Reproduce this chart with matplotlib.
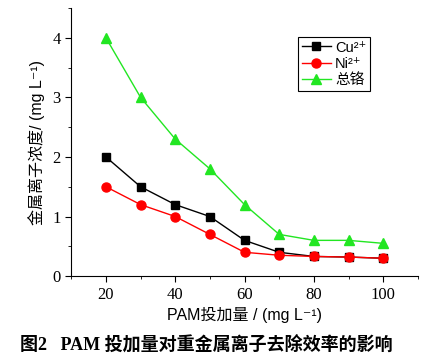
import matplotlib
matplotlib.use("Agg")
import matplotlib.pyplot as plt
from matplotlib.ticker import MultipleLocator

dose = [20, 30, 40, 50, 60, 70, 80, 90, 100]
cu = [2.0, 1.5, 1.2, 1.0, 0.6, 0.4, 0.33, 0.32, 0.3]
ni = [1.5, 1.2, 1.0, 0.7, 0.4, 0.35, 0.33, 0.32, 0.3]
cr = [4.0, 3.0, 2.3, 1.8, 1.2, 0.7, 0.6, 0.6, 0.55]
labels = ["Cu²⁺", "Ni²⁺", "总铬"]

fam = ["Liberation Sans", "Noto Sans CJK SC", "DejaVu Sans"]
plt.rcParams['font.family'] = fam

fig = plt.figure(figsize=(4.45, 3.6), dpi=100)
ax = fig.add_axes([0.16, 0.233, 0.779, 0.745])

ax.plot(dose, cu, color='black', marker='s', markersize=6, lw=1, label=labels[0])
ax.plot(dose, ni, color='red', marker='o', markersize=6.5, lw=1, label=labels[1])
ax.plot(dose, cr, color='#22e622', marker='^', markersize=7, lw=1, label=labels[2])

ax.set_xlim(10, 110)
ax.set_ylim(0, 4.5)
ax.xaxis.set_major_locator(MultipleLocator(20))
ax.xaxis.set_minor_locator(MultipleLocator(10))
ax.yaxis.set_major_locator(MultipleLocator(1))
ax.yaxis.set_minor_locator(MultipleLocator(0.5))
ax.spines['top'].set_visible(False)
ax.spines['right'].set_visible(False)
ax.tick_params(which='major', direction='out', length=4, labelsize=12)
ax.tick_params(which='minor', direction='out', length=2.5)
for t in ax.get_xticklabels() + ax.get_yticklabels():
    t.set_fontfamily('Liberation Serif')

ax.set_xlabel("PAM投加量 / (mg L⁻¹)", fontsize=11.5, labelpad=3)
ax.set_ylabel("金属离子浓度/ (mg L⁻¹)", fontsize=11.5, labelpad=5)

leg = ax.legend(loc='upper left', bbox_to_anchor=(0.654, 0.892), borderaxespad=0,
                fancybox=False, edgecolor='black', framealpha=1, fontsize=10.5,
                handlelength=2.0, handletextpad=0.3, borderpad=0.25, labelspacing=0.15)
leg.get_frame().set_linewidth(0.8)

fig.text(0.045, 0.04, "图2   PAM 投加量对重金属离子去除效率的影响", ha='left', va='center',
         fontsize=13, fontweight='bold', family=['Liberation Serif', 'Noto Sans CJK SC'])

fig.savefig("out.png", dpi=100)
